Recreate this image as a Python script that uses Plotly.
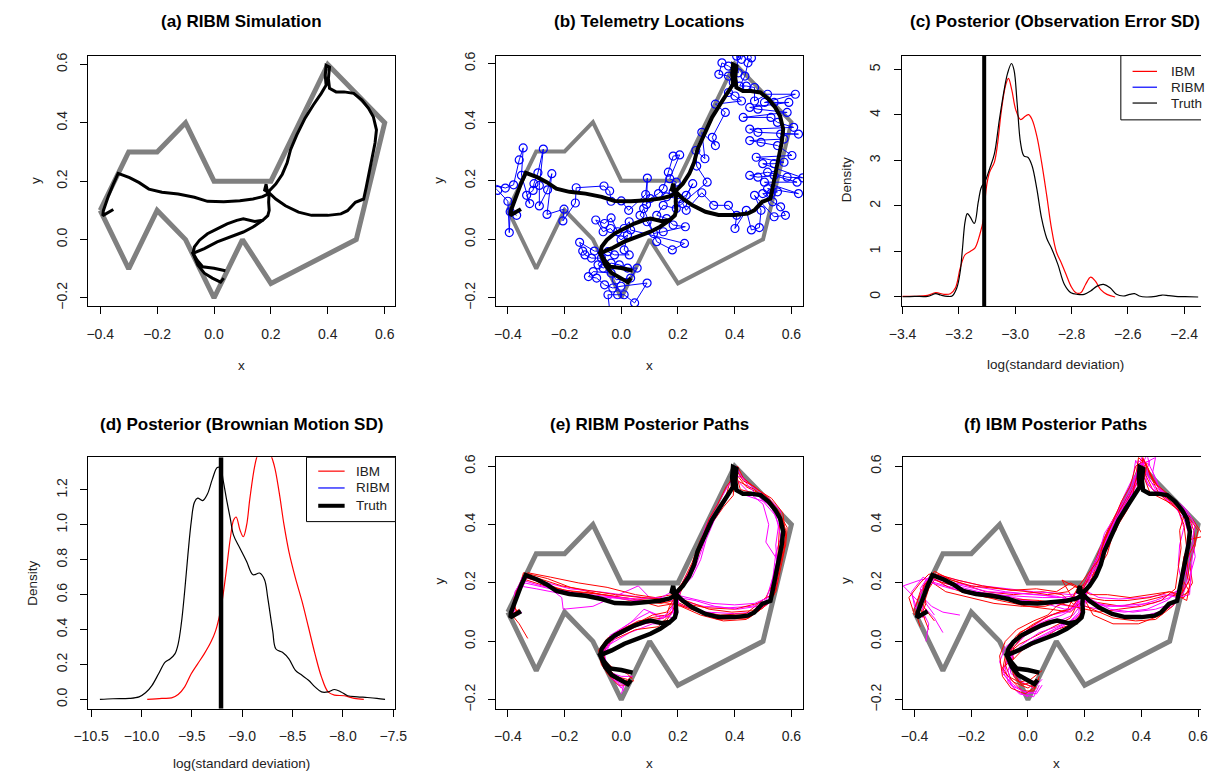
import plotly.graph_objects as go

W, H = 1221, 781
OFF = 8  # browser body margin
FW, FH = W - 2 * OFF, H - 2 * OFF  # keep the page from overflowing the window
FONT = "Liberation Sans, Arial, Helvetica, sans-serif"

# ---------------- data ----------------
BOUNDARY = [(-0.4, 0.1), (-0.3, 0.3), (-0.2, 0.3), (-0.1, 0.4), (0.0, 0.2), (0.2, 0.2), (0.4, 0.6),
            (0.6, 0.4), (0.5, 0.0), (0.2, -0.15), (0.1, 0.0), (0.0, -0.2), (-0.1, 0.0), (-0.2, 0.1),
            (-0.3, -0.1), (-0.4, 0.1)]

TRUTH_1 = [(-0.354, 0.103), (-0.371, 0.092), (-0.391, 0.082), (-0.389, 0.099), (-0.371, 0.150), (-0.354, 0.190),
           (-0.337, 0.227), (-0.297, 0.212), (-0.263, 0.195), (-0.229, 0.173), (-0.183, 0.162), (-0.126, 0.156),
           (-0.069, 0.145), (-0.023, 0.131), (0.034, 0.130), (0.091, 0.133), (0.137, 0.139), (0.171, 0.147),
           (0.189, 0.156), (0.183, 0.190), (0.178, 0.170), (0.194, 0.160), (0.217, 0.139), (0.251, 0.116),
           (0.297, 0.094), (0.343, 0.083), (0.400, 0.083), (0.446, 0.088), (0.469, 0.099), (0.497, 0.128),
           (0.526, 0.139), (0.535, 0.179), (0.543, 0.218), (0.554, 0.275), (0.566, 0.331), (0.571, 0.376),
           (0.560, 0.421), (0.543, 0.450), (0.520, 0.478), (0.491, 0.501), (0.457, 0.506), (0.429, 0.506),
           (0.406, 0.518), (0.402, 0.551), (0.406, 0.591), (0.394, 0.597), (0.391, 0.563), (0.394, 0.529),
           (0.377, 0.501), (0.349, 0.461), (0.320, 0.416), (0.291, 0.359), (0.269, 0.308), (0.257, 0.263),
           (0.240, 0.224), (0.217, 0.190), (0.194, 0.167), (0.192, 0.128), (0.194, 0.100), (0.189, 0.082),
           (0.171, 0.066), (0.143, 0.062), (0.103, 0.071), (0.080, 0.066), (0.046, 0.054), (0.011, 0.037),
           (-0.023, 0.020), (-0.051, -0.002), (-0.069, -0.025), (-0.074, -0.047), (-0.057, -0.087),
           (-0.034, -0.115), (-0.006, -0.132), (0.023, -0.146), (0.034, -0.132)]
TRUTH_2 = [(0.040, -0.107), (0.000, -0.098), (-0.040, -0.093), (-0.060, -0.070), (-0.074, -0.047),
           (-0.034, -0.031), (0.011, -0.008), (0.057, 0.009), (0.103, 0.026), (0.137, 0.043), (0.171, 0.066)]

TELEMETRY = [(-0.369, 0.082), (-0.392, 0.094), (-0.395, 0.023), (-0.400, 0.130), (-0.436, 0.167), (-0.46, 0.19),
             (-0.409, 0.175), (-0.380, 0.186), (-0.360, 0.271), (-0.346, 0.312), (-0.352, 0.218), (-0.323, 0.122),
             (-0.334, 0.150), (-0.311, 0.167), (-0.308, 0.190), (-0.294, 0.227), (-0.275, 0.308), (-0.289, 0.184),
             (-0.289, 0.114), (-0.260, 0.169), (-0.245, 0.224), (-0.262, 0.085), (-0.202, 0.103), (-0.206, 0.063),
             (-0.162, 0.124), (-0.159, 0.176), (-0.061, 0.182), (-0.041, 0.165), (-0.036, 0.130), (0.000, 0.131),
             (0.026, 0.099), (0.086, 0.153), (0.092, 0.209), (0.089, 0.119), (0.102, 0.139),
             (0.131, 0.156), (0.148, 0.173), (0.166, 0.229), (0.183, 0.284), (0.206, 0.288), (0.171, 0.207),
             (0.194, 0.195), (0.183, 0.162), (0.160, 0.145), (0.206, 0.139), (0.229, 0.150), (0.252, 0.190),
             (0.217, 0.122), (0.229, 0.099), (0.284, 0.159), (0.326, 0.116),
             (0.378, 0.116), (0.407, 0.082), (0.401, 0.037), (0.441, 0.099), (0.459, 0.032), (0.487, 0.040),
             (0.493, 0.099), (0.470, 0.150), (0.539, 0.077), (0.579, 0.082), (0.562, 0.111), (0.534, 0.128),
             (0.499, 0.156), (0.528, 0.156), (0.551, 0.162), (0.516, 0.173), (0.625, 0.156), (0.505, 0.195),
             (0.620, 0.195), (0.539, 0.218), (0.482, 0.212), (0.453, 0.218), (0.516, 0.229), (0.585, 0.212),
             (0.64, 0.21), (0.499, 0.258), (0.539, 0.258), (0.574, 0.263), (0.476, 0.280), (0.602, 0.286),
             (0.551, 0.320), (0.493, 0.331), (0.453, 0.337), (0.574, 0.342), (0.562, 0.359), (0.625, 0.359),
             (0.482, 0.365), (0.453, 0.376), (0.608, 0.382), (0.551, 0.399), (0.528, 0.416), (0.430, 0.416),
             (0.585, 0.433), (0.482, 0.444), (0.453, 0.450), (0.591, 0.467), (0.539, 0.467), (0.505, 0.467),
             (0.614, 0.495), (0.516, 0.495), (0.470, 0.472), (0.470, 0.518),
             (0.441, 0.523), (0.418, 0.523), (0.436, 0.557), (0.447, 0.602), (0.459, 0.619), (0.44, 0.67),
             (0.424, 0.614), (0.407, 0.625), (0.413, 0.568), (0.378, 0.591), (0.355, 0.602), (0.344, 0.563),
             (0.378, 0.557), (0.395, 0.535), (0.378, 0.501), (0.401, 0.489), (0.424, 0.472),
             (0.332, 0.461), (0.367, 0.433), (0.321, 0.348), (0.332, 0.320), (0.284, 0.365), (0.295, 0.275),
             (0.263, 0.303), (0.266, 0.250), (0.303, 0.195),
             (0.194, 0.105), (0.148, 0.116), (0.125, 0.082), (0.160, 0.071), (0.183, 0.049), (0.226, 0.043),
             (0.148, 0.026), (0.114, 0.020), (0.091, 0.060), (0.066, 0.082), (0.079, 0.105), (0.125, -0.008),
             (0.180, -0.036), (0.223, -0.014),
             (0.033, 0.032), (0.028, 0.060), (0.010, 0.037), (-0.013, 0.026), (-0.036, 0.073), (-0.059, 0.054),
             (-0.090, 0.066), (-0.064, 0.026), (-0.038, 0.037), (-0.001, -0.002), (0.022, 0.015), (0.010, -0.036),
             (0.028, -0.053), (-0.024, -0.053), (-0.047, -0.042), (-0.095, -0.040), (-0.147, -0.010),
             (-0.136, -0.040), (-0.128, -0.053), (-0.105, -0.064), (-0.070, -0.064), (-0.082, -0.087),
             (-0.064, -0.098), (-0.036, -0.081), (-0.007, -0.087), (0.022, -0.098), (0.056, -0.098),
             (0.033, -0.132), (-0.018, -0.138), (-0.036, -0.115), (-0.099, -0.110), (-0.116, -0.127),
             (-0.087, -0.132), (-0.059, -0.155), (-0.030, -0.166), (-0.001, -0.160), (0.091, -0.149),
             (0.047, -0.217), (0.010, -0.189), (-0.013, -0.189), (-0.047, -0.189), (-0.04, -0.25)]

# (c) posterior of observation error SD
C_BLACK_X = [-3.40, -3.357, -3.311, -3.282, -3.265, -3.241, -3.224, -3.207, -3.195, -3.187, -3.178, -3.170, -3.160,
             -3.145, -3.131, -3.120, -3.108, -3.091, -3.074, -3.056, -3.039, -3.027, -3.013, -3.004, -2.993, -2.981,
             -2.969, -2.954, -2.940, -2.923, -2.906, -2.888, -2.871, -2.848, -2.825, -2.802, -2.778, -2.755, -2.732,
             -2.709, -2.686, -2.663, -2.640, -2.616, -2.593, -2.576, -2.559, -2.535, -2.501, -2.478, -2.454, -2.431,
             -2.397, -2.350]
C_BLACK_Y = [0.005, 0.014, 0.014, 0.072, 0.043, 0.014, 0.022, 0.203, 0.565, 1.072, 1.652, 1.833, 1.761, 1.616,
             2.087, 2.413, 2.522, 2.812, 3.138, 3.899, 4.551, 4.913, 5.130, 4.986, 4.261, 3.391, 3.101, 3.065,
             2.884, 2.377, 1.725, 1.290, 1.072, 0.710, 0.275, 0.094, 0.058, 0.058, 0.130, 0.239, 0.275, 0.203,
             0.058, 0.022, 0.058, 0.072, 0.022, 0.0, 0.014, 0.043, 0.029, 0.014, 0.007, 0.0]
C_RED_X = [-3.40, -3.357, -3.311, -3.282, -3.253, -3.230, -3.212, -3.195, -3.178, -3.160, -3.143, -3.126, -3.112,
           -3.103, -3.091, -3.074, -3.062, -3.050, -3.035, -3.024, -3.012, -2.998, -2.981, -2.964, -2.952, -2.940,
           -2.923, -2.906, -2.888, -2.871, -2.854, -2.836, -2.819, -2.802, -2.784, -2.767, -2.750, -2.732, -2.715,
           -2.697, -2.674, -2.645]
C_RED_Y = [0.014, 0.014, 0.036, 0.094, 0.058, 0.072, 0.203, 0.638, 0.928, 1.0, 1.072, 1.362, 1.725, 2.377, 2.739,
           2.957, 3.391, 4.043, 4.623, 4.804, 4.551, 4.116, 3.899, 3.971, 4.007, 3.899, 3.536, 2.957, 2.232, 1.507,
           1.0, 0.746, 0.493, 0.239, 0.094, 0.094, 0.275, 0.435, 0.348, 0.167, 0.058, 0.0]
C_TRUTH = -3.11

# (d) posterior of Brownian motion SD
D_BLACK_X = [-10.413, -10.283, -10.121, -10.024, -9.960, -9.895, -9.830, -9.765, -9.717, -9.668, -9.636, -9.605,
             -9.571, -9.539, -9.506, -9.474, -9.442, -9.393, -9.345, -9.296, -9.248, -9.216, -9.189, -9.150, -9.118,
             -9.086, -9.021, -8.956, -8.892, -8.827, -8.778, -8.746, -8.697, -8.665, -8.600, -8.536, -8.471, -8.406,
             -8.341, -8.277, -8.212, -8.147, -8.083, -8.018, -7.953, -7.856, -7.759, -7.662, -7.581]
D_BLACK_Y = [0.0, 0.004, 0.006, 0.015, 0.038, 0.081, 0.147, 0.214, 0.232, 0.261, 0.317, 0.431, 0.620, 0.828, 1.017,
             1.130, 1.153, 1.139, 1.177, 1.262, 1.328, 1.328, 1.255, 1.130, 1.036, 0.941, 0.865, 0.790, 0.714,
             0.724, 0.686, 0.582, 0.393, 0.289, 0.270, 0.232, 0.166, 0.138, 0.110, 0.072, 0.043, 0.043, 0.057,
             0.043, 0.021, 0.015, 0.011, 0.006, 0.0]
D_RED_X = [-9.943, -9.798, -9.701, -9.636, -9.571, -9.506, -9.442, -9.377, -9.312, -9.264, -9.216, -9.167, -9.118,
           -9.086, -9.060, -9.021, -8.989, -8.956, -8.924, -8.875, -8.843, -8.794, -8.730, -8.681, -8.633, -8.584,
           -8.536, -8.471, -8.406, -8.341, -8.277, -8.212, -8.147, -8.083, -7.985, -7.888, -7.792]
D_RED_Y = [0.0, 0.006, 0.009, 0.028, 0.072, 0.147, 0.204, 0.261, 0.327, 0.393, 0.506, 0.695, 0.922, 1.026, 1.045,
           0.969, 0.932, 0.998, 1.149, 1.338, 1.404, 1.432, 1.413, 1.338, 1.187, 0.998, 0.847, 0.695, 0.563, 0.412,
           0.261, 0.128, 0.043, 0.025, 0.021, 0.006, 0.0]
D_TRUTH = -9.21

LEGEND_LABELS = ["IBM", "RIBM", "Truth"]
LEGEND_COLORS = ["#ff0000", "#0000ff", "#000000"]

# (e) RIBM posterior paths
E_RED_1 = [(-0.33, 0.01), (-0.36, 0.06), (-0.385, 0.09), (-0.37, 0.15), (-0.345, 0.235), (-0.26, 0.215), (-0.18, 0.185),
           (-0.07, 0.16), (0.03, 0.14), (0.14, 0.13), (0.185, 0.14), (0.25, 0.11), (0.34, 0.075), (0.45, 0.08),
           (0.52, 0.13), (0.54, 0.21), (0.56, 0.32), (0.57, 0.41), (0.53, 0.47), (0.47, 0.52), (0.41, 0.55),
           (0.39, 0.57), (0.37, 0.50), (0.33, 0.44), (0.28, 0.35), (0.25, 0.27), (0.21, 0.19), (0.19, 0.12),
           (0.16, 0.07), (0.07, 0.06), (-0.03, 0.01), (-0.07, -0.05), (-0.04, -0.10), (0.01, -0.14), (0.04, -0.12)]
E_RED_2 = [(-0.36, 0.11), (-0.39, 0.09), (-0.375, 0.16), (-0.35, 0.215), (-0.27, 0.19), (-0.17, 0.17), (-0.06, 0.16),
           (0.04, 0.145), (0.13, 0.12), (0.19, 0.13), (0.26, 0.105), (0.35, 0.09), (0.44, 0.095), (0.51, 0.15),
           (0.55, 0.23), (0.58, 0.33), (0.585, 0.39), (0.55, 0.45), (0.50, 0.50), (0.44, 0.53), (0.40, 0.58),
           (0.385, 0.52), (0.34, 0.45), (0.30, 0.38), (0.265, 0.30), (0.23, 0.21), (0.20, 0.16), (0.18, 0.10),
           (0.13, 0.05), (0.05, 0.04), (-0.04, 0.0), (-0.075, -0.06), (-0.05, -0.11), (-0.01, -0.15), (0.03, -0.15)]
E_RED_3 = [(-0.365, 0.10), (-0.38, 0.12), (-0.36, 0.18), (-0.33, 0.235), (-0.25, 0.22), (-0.15, 0.20), (-0.05, 0.185),
           (0.05, 0.16), (0.12, 0.15), (0.18, 0.16), (0.22, 0.13), (0.30, 0.115), (0.40, 0.11), (0.48, 0.13),
           (0.53, 0.16), (0.55, 0.25), (0.555, 0.34), (0.56, 0.43), (0.52, 0.48), (0.46, 0.51), (0.42, 0.52),
           (0.40, 0.59), (0.395, 0.50), (0.36, 0.46), (0.31, 0.39), (0.27, 0.31), (0.245, 0.24), (0.21, 0.17),
           (0.19, 0.11), (0.15, 0.08), (0.06, 0.07), (-0.02, 0.03), (-0.06, -0.02), (-0.06, -0.08), (-0.02, -0.12),
           (0.02, -0.13)]
E_RED_4 = [(-0.37, 0.09), (-0.385, 0.10), (-0.37, 0.17), (-0.34, 0.22), (-0.28, 0.20), (-0.20, 0.175), (-0.10, 0.165),
           (0.0, 0.15), (0.10, 0.14), (0.17, 0.13), (0.21, 0.12), (0.28, 0.09), (0.36, 0.07), (0.44, 0.075),
           (0.50, 0.115), (0.54, 0.16), (0.56, 0.26), (0.58, 0.36), (0.57, 0.44), (0.53, 0.49), (0.48, 0.52),
           (0.43, 0.56), (0.41, 0.60), (0.40, 0.55), (0.38, 0.51), (0.33, 0.43), (0.30, 0.37), (0.27, 0.29),
           (0.24, 0.22), (0.20, 0.17), (0.17, 0.12), (0.16, 0.09), (0.10, 0.08), (0.02, 0.05), (-0.05, 0.0),
           (-0.07, -0.06), (-0.03, -0.09), (0.02, -0.11), (0.04, -0.13)]
E_RED_5 = [(-0.37, 0.10), (-0.38, 0.14), (-0.355, 0.20), (-0.335, 0.23), (-0.29, 0.215), (-0.21, 0.19), (-0.12, 0.175),
           (-0.02, 0.16), (0.07, 0.15), (0.15, 0.145), (0.19, 0.15), (0.24, 0.135), (0.31, 0.11), (0.39, 0.10),
           (0.46, 0.105), (0.51, 0.125), (0.545, 0.17), (0.56, 0.24), (0.575, 0.31), (0.58, 0.38), (0.56, 0.44),
           (0.52, 0.49), (0.47, 0.53), (0.43, 0.55), (0.41, 0.58), (0.395, 0.56), (0.37, 0.53), (0.34, 0.47),
           (0.31, 0.42), (0.28, 0.34), (0.26, 0.28), (0.23, 0.22), (0.20, 0.18), (0.185, 0.13), (0.16, 0.10),
           (0.11, 0.09), (0.05, 0.06), (0.0, 0.035), (-0.05, 0.01), (-0.08, -0.03), (-0.07, -0.08), (-0.04, -0.12),
           (0.0, -0.14), (0.045, -0.135)]
E_MAG_1 = [(-0.36, 0.09), (-0.38, 0.10), (-0.37, 0.16), (-0.34, 0.20), (-0.25, 0.18), (-0.21, 0.15), (-0.205, 0.11),
           (-0.10, 0.12), (0.06, 0.19), (0.10, 0.15), (0.18, 0.14), (0.22, 0.12), (0.30, 0.10), (0.40, 0.095),
           (0.47, 0.10), (0.52, 0.13), (0.53, 0.20), (0.55, 0.28), (0.51, 0.34), (0.52, 0.40), (0.50, 0.47),
           (0.45, 0.51), (0.41, 0.55), (0.40, 0.585), (0.39, 0.52), (0.35, 0.47), (0.31, 0.41), (0.29, 0.33),
           (0.26, 0.25), (0.22, 0.19), (0.19, 0.15), (0.20, 0.10), (0.17, 0.06), (0.11, 0.06), (0.03, 0.03),
           (-0.04, -0.01), (-0.07, -0.07), (-0.04, -0.12), (0.0, -0.16), (0.02, -0.14)]
E_MAG_2 = [(-0.375, 0.11), (-0.39, 0.08), (-0.38, 0.13), (-0.35, 0.22), (-0.28, 0.205), (-0.18, 0.18), (-0.08, 0.17),
           (0.03, 0.155), (0.12, 0.145), (0.17, 0.15), (0.21, 0.14), (0.29, 0.12), (0.38, 0.115), (0.46, 0.12),
           (0.51, 0.14), (0.535, 0.22), (0.545, 0.30), (0.57, 0.38), (0.56, 0.45), (0.51, 0.50), (0.46, 0.53),
           (0.43, 0.56), (0.40, 0.57), (0.375, 0.53), (0.345, 0.48), (0.30, 0.40), (0.27, 0.32), (0.25, 0.26),
           (0.22, 0.2), (0.185, 0.16), (0.18, 0.11), (0.19, 0.08), (0.13, 0.09), (0.08, 0.11), (0.04, 0.07),
           (-0.03, 0.02), (-0.06, -0.04), (-0.05, -0.09), (-0.02, -0.13), (0.01, -0.17)]
E_MAG_3 = [(-0.35, 0.10), (-0.385, 0.085), (-0.38, 0.14), (-0.36, 0.19), (-0.30, 0.18), (-0.22, 0.165), (-0.13, 0.155),
           (-0.04, 0.15), (0.05, 0.14), (0.13, 0.135), (0.19, 0.16), (0.23, 0.15), (0.32, 0.13), (0.40, 0.125),
           (0.47, 0.13), (0.53, 0.155), (0.55, 0.20), (0.56, 0.29), (0.565, 0.35), (0.545, 0.43), (0.50, 0.48),
           (0.44, 0.50), (0.41, 0.52), (0.40, 0.56), (0.38, 0.50), (0.33, 0.42), (0.30, 0.35), (0.28, 0.28),
           (0.25, 0.22), (0.21, 0.18), (0.20, 0.13), (0.175, 0.09), (0.12, 0.07), (0.05, 0.05), (-0.01, 0.02),
           (-0.06, -0.03), (-0.065, -0.08), (-0.03, -0.11), (0.0, -0.12), (0.04, -0.12)]
E_MAG_4 = [(-0.38, 0.12), (-0.375, 0.17), (-0.35, 0.21), (-0.30, 0.195), (-0.24, 0.18), (-0.16, 0.165), (-0.06, 0.155),
           (0.05, 0.145), (0.14, 0.15), (0.18, 0.17), (0.20, 0.15), (0.26, 0.14), (0.33, 0.12), (0.41, 0.11),
           (0.48, 0.12), (0.52, 0.14), (0.54, 0.18), (0.55, 0.26), (0.545, 0.33), (0.555, 0.40), (0.53, 0.46),
           (0.49, 0.49), (0.45, 0.53), (0.42, 0.57), (0.405, 0.60), (0.40, 0.55), (0.36, 0.48), (0.32, 0.42),
           (0.29, 0.36), (0.27, 0.30), (0.24, 0.24), (0.21, 0.19), (0.19, 0.14), (0.17, 0.10), (0.14, 0.08),
           (0.10, 0.10), (0.06, 0.08), (0.01, 0.05), (-0.04, 0.02), (-0.065, -0.04), (-0.06, -0.09), (-0.03, -0.13),
           (0.01, -0.15), (0.0, -0.18)]

# (f) IBM posterior paths
F_RED_1 = [(-0.36, 0.08), (-0.39, 0.10), (-0.36, 0.16), (-0.34, 0.23), (-0.30, 0.22), (-0.24, 0.20), (-0.15, 0.17),
           (-0.05, 0.16), (0.05, 0.17), (0.12, 0.16), (0.17, 0.12), (0.20, 0.14), (0.26, 0.13), (0.33, 0.12),
           (0.42, 0.14), (0.50, 0.16), (0.55, 0.15), (0.58, 0.20), (0.57, 0.27), (0.59, 0.33), (0.585, 0.38),
           (0.56, 0.44), (0.52, 0.48), (0.47, 0.52), (0.43, 0.57), (0.41, 0.62), (0.39, 0.58), (0.37, 0.52),
           (0.33, 0.47), (0.29, 0.40), (0.25, 0.31), (0.22, 0.23), (0.19, 0.18), (0.17, 0.12), (0.15, 0.08),
           (0.09, 0.05), (0.03, 0.02), (-0.03, -0.01), (-0.08, -0.05), (-0.09, -0.10), (-0.05, -0.14), (0.0, -0.16),
           (0.03, -0.14)]
F_RED_2 = [(-0.33, 0.07), (-0.37, 0.12), (-0.35, 0.18), (-0.33, 0.21), (-0.26, 0.19), (-0.18, 0.16), (-0.10, 0.14),
           (0.00, 0.12), (0.08, 0.11), (0.15, 0.10), (0.18, 0.13), (0.24, 0.105), (0.30, 0.08), (0.38, 0.07),
           (0.45, 0.075), (0.51, 0.12), (0.545, 0.17), (0.55, 0.24), (0.56, 0.31), (0.57, 0.37), (0.555, 0.43),
           (0.52, 0.46), (0.48, 0.50), (0.45, 0.54), (0.42, 0.59), (0.405, 0.63), (0.40, 0.57), (0.36, 0.50),
           (0.32, 0.44), (0.28, 0.37), (0.26, 0.30), (0.23, 0.22), (0.18, 0.18), (0.12, 0.21), (0.15, 0.16),
           (0.19, 0.10), (0.16, 0.06), (0.10, 0.04), (0.04, 0.00), (-0.02, -0.03), (-0.06, -0.07), (-0.05, -0.12),
           (-0.02, -0.15), (0.04, -0.13)]
F_RED_3 = [(-0.38, 0.05), (-0.40, 0.11), (-0.38, 0.17), (-0.35, 0.21), (-0.29, 0.17), (-0.21, 0.15), (-0.12, 0.13),
           (-0.02, 0.12), (0.06, 0.12), (0.13, 0.14), (0.19, 0.16), (0.23, 0.09), (0.30, 0.06), (0.39, 0.06),
           (0.47, 0.09), (0.53, 0.15), (0.57, 0.17), (0.54, 0.22), (0.55, 0.29), (0.575, 0.35), (0.62, 0.36),
           (0.58, 0.42), (0.53, 0.46), (0.49, 0.49), (0.44, 0.52), (0.40, 0.60), (0.38, 0.55), (0.35, 0.49),
           (0.31, 0.43), (0.28, 0.36), (0.24, 0.28), (0.20, 0.20), (0.17, 0.17), (0.14, 0.11), (0.08, 0.09),
           (0.02, 0.06), (-0.04, 0.02), (-0.07, -0.02), (-0.08, -0.08), (-0.06, -0.13), (-0.02, -0.17), (0.02, -0.17),
           (0.04, -0.12)]
F_RED_4 = [(-0.35, 0.04), (-0.37, 0.09), (-0.39, 0.14), (-0.36, 0.20), (-0.33, 0.24), (-0.27, 0.21), (-0.20, 0.19),
           (-0.10, 0.18), (0.00, 0.17), (0.07, 0.16), (0.14, 0.17), (0.17, 0.19), (0.21, 0.15), (0.27, 0.14),
           (0.35, 0.14), (0.43, 0.15), (0.50, 0.17), (0.56, 0.14), (0.57, 0.19), (0.555, 0.25), (0.56, 0.32),
           (0.55, 0.40), (0.53, 0.45), (0.49, 0.48), (0.46, 0.51), (0.44, 0.55), (0.42, 0.60), (0.39, 0.63),
           (0.38, 0.56), (0.37, 0.50), (0.34, 0.46), (0.31, 0.38), (0.27, 0.33), (0.24, 0.26), (0.22, 0.20),
           (0.20, 0.14), (0.18, 0.08), (0.14, 0.06), (0.07, 0.07), (0.00, 0.04), (-0.05, -0.02), (-0.06, -0.09),
           (-0.03, -0.14), (0.01, -0.13), (0.05, -0.10)]
F_RED_5 = [(-0.38, 0.08), (-0.36, 0.13), (-0.37, 0.19), (-0.34, 0.22), (-0.28, 0.185), (-0.22, 0.165), (-0.14, 0.15),
           (-0.04, 0.145), (0.04, 0.14), (0.11, 0.13), (0.16, 0.12), (0.20, 0.11), (0.25, 0.10), (0.32, 0.11),
           (0.40, 0.12), (0.47, 0.14), (0.52, 0.18), (0.53, 0.25), (0.54, 0.32), (0.535, 0.38), (0.55, 0.43),
           (0.51, 0.47), (0.47, 0.49), (0.43, 0.51), (0.41, 0.56), (0.42, 0.61), (0.40, 0.59), (0.385, 0.52),
           (0.35, 0.45), (0.30, 0.37), (0.28, 0.30), (0.25, 0.25), (0.21, 0.21), (0.18, 0.15), (0.15, 0.11),
           (0.11, 0.10), (0.06, 0.08), (0.01, 0.05), (-0.03, 0.03), (-0.06, -0.03), (-0.05, -0.06), (-0.09, -0.09),
           (-0.07, -0.12), (-0.03, -0.14), (0.03, -0.16)]
F_RED_6 = [(-0.40, 0.09), (-0.42, 0.15), (-0.38, 0.20), (-0.35, 0.23), (-0.32, 0.23), (-0.25, 0.21), (-0.16, 0.19),
           (-0.06, 0.175), (0.03, 0.18), (0.10, 0.17), (0.15, 0.20), (0.19, 0.18), (0.22, 0.16), (0.28, 0.16),
           (0.36, 0.15), (0.44, 0.16), (0.50, 0.17), (0.54, 0.16), (0.57, 0.21), (0.56, 0.28), (0.59, 0.34),
           (0.60, 0.38), (0.57, 0.42), (0.54, 0.45), (0.50, 0.50), (0.45, 0.54), (0.43, 0.58), (0.41, 0.62),
           (0.38, 0.60), (0.36, 0.53), (0.33, 0.48), (0.30, 0.41), (0.27, 0.35), (0.25, 0.28), (0.21, 0.23),
           (0.18, 0.19), (0.15, 0.14), (0.10, 0.12), (0.07, 0.09), (0.02, 0.07), (-0.04, 0.04), (-0.08, 0.00),
           (-0.10, -0.05), (-0.09, -0.12), (-0.06, -0.16), (-0.01, -0.18), (0.02, -0.16)]
F_MAG_1 = [(-0.41, 0.16), (-0.39, 0.11), (-0.37, 0.15), (-0.35, 0.22), (-0.30, 0.20), (-0.22, 0.18), (-0.13, 0.16),
           (-0.04, 0.155), (0.05, 0.15), (0.12, 0.15), (0.17, 0.14), (0.20, 0.12), (0.25, 0.11), (0.34, 0.10),
           (0.42, 0.11), (0.49, 0.14), (0.53, 0.17), (0.55, 0.23), (0.56, 0.30), (0.575, 0.36), (0.56, 0.42),
           (0.53, 0.47), (0.49, 0.50), (0.45, 0.52), (0.42, 0.57), (0.40, 0.63), (0.39, 0.57), (0.37, 0.51),
           (0.33, 0.45), (0.30, 0.39), (0.27, 0.32), (0.24, 0.24), (0.21, 0.19), (0.19, 0.13), (0.16, 0.09),
           (0.11, 0.07), (0.05, 0.05), (-0.01, 0.02), (-0.06, -0.03), (-0.08, -0.09), (-0.07, -0.14), (-0.03, -0.18),
           (0.02, -0.19), (0.04, -0.15)]
F_MAG_2 = [(-0.30, 0.03), (-0.33, 0.08), (-0.37, 0.12), (-0.40, 0.15), (-0.44, 0.19), (-0.38, 0.21), (-0.33, 0.22),
           (-0.26, 0.20), (-0.17, 0.185), (-0.08, 0.17), (0.02, 0.16), (0.10, 0.155), (0.16, 0.14), (0.19, 0.155),
           (0.24, 0.12), (0.31, 0.09), (0.40, 0.085), (0.46, 0.10), (0.51, 0.12), (0.545, 0.16), (0.56, 0.22),
           (0.57, 0.28), (0.565, 0.35), (0.57, 0.41), (0.54, 0.45), (0.50, 0.49), (0.46, 0.53), (0.44, 0.58),
           (0.45, 0.63), (0.41, 0.61), (0.39, 0.55), (0.36, 0.49), (0.32, 0.42), (0.29, 0.35), (0.26, 0.28),
           (0.23, 0.21), (0.20, 0.16), (0.19, 0.10), (0.15, 0.07), (0.09, 0.04), (0.03, 0.01), (-0.02, -0.02),
           (-0.07, -0.06), (-0.06, -0.11), (-0.02, -0.14), (0.02, -0.16), (0.05, -0.13)]
F_MAG_3 = [(-0.33, 0.09), (-0.36, 0.13), (-0.38, 0.18), (-0.36, 0.21), (-0.29, 0.19), (-0.20, 0.17), (-0.10, 0.16),
           (0.00, 0.14), (0.09, 0.13), (0.15, 0.12), (0.19, 0.14), (0.22, 0.13), (0.28, 0.12), (0.36, 0.125),
           (0.44, 0.13), (0.50, 0.15), (0.545, 0.19), (0.53, 0.26), (0.535, 0.33), (0.55, 0.39), (0.53, 0.45),
           (0.49, 0.49), (0.45, 0.51), (0.42, 0.54), (0.41, 0.60), (0.39, 0.62), (0.38, 0.54), (0.35, 0.47),
           (0.31, 0.40), (0.28, 0.34), (0.25, 0.27), (0.22, 0.20), (0.18, 0.16), (0.16, 0.11), (0.12, 0.09),
           (0.06, 0.07), (0.00, 0.04), (-0.05, 0.00), (-0.07, -0.05), (-0.09, -0.11), (-0.05, -0.15), (0.0, -0.18),
           (0.03, -0.17)]
F_MAG_4 = [(-0.24, 0.09), (-0.30, 0.10), (-0.34, 0.12), (-0.37, 0.15), (-0.36, 0.20), (-0.33, 0.23), (-0.25, 0.21),
           (-0.16, 0.19), (-0.07, 0.18), (0.02, 0.17), (0.10, 0.165), (0.15, 0.16), (0.21, 0.17), (0.25, 0.15),
           (0.32, 0.145), (0.41, 0.15), (0.48, 0.16), (0.53, 0.15), (0.57, 0.16), (0.575, 0.23), (0.58, 0.30),
           (0.57, 0.36), (0.55, 0.42), (0.51, 0.47), (0.47, 0.50), (0.43, 0.53), (0.40, 0.58), (0.38, 0.62),
           (0.37, 0.56), (0.34, 0.50), (0.31, 0.43), (0.27, 0.37), (0.25, 0.30), (0.22, 0.24), (0.19, 0.17),
           (0.17, 0.12), (0.13, 0.10), (0.08, 0.09), (0.03, 0.06), (-0.03, 0.02), (-0.08, -0.02), (-0.10, -0.07),
           (-0.08, -0.12), (-0.04, -0.17), (0.0, -0.19)]
F_MAG_5 = [(-0.36, 0.00), (-0.35, 0.06), (-0.37, 0.10), (-0.38, 0.16), (-0.36, 0.21), (-0.31, 0.21), (-0.23, 0.19),
           (-0.14, 0.17), (-0.05, 0.165), (0.04, 0.16), (0.11, 0.15), (0.16, 0.155), (0.20, 0.14), (0.24, 0.13),
           (0.30, 0.12), (0.38, 0.12), (0.45, 0.14), (0.50, 0.16), (0.54, 0.18), (0.56, 0.25), (0.56, 0.33),
           (0.58, 0.40), (0.55, 0.46), (0.50, 0.50), (0.46, 0.52), (0.43, 0.55), (0.42, 0.59), (0.43, 0.62),
           (0.39, 0.60), (0.37, 0.53), (0.34, 0.47), (0.30, 0.40), (0.27, 0.33), (0.25, 0.27), (0.21, 0.21),
           (0.18, 0.15), (0.18, 0.10), (0.15, 0.07), (0.10, 0.05), (0.04, 0.03), (-0.02, -0.01), (-0.06, -0.05),
           (-0.05, -0.10), (-0.01, -0.13), (0.03, -0.14)]
F_MAG_6 = [(-0.37, 0.08), (-0.40, 0.12), (-0.41, 0.17), (-0.37, 0.22), (-0.34, 0.20), (-0.27, 0.18), (-0.19, 0.17),
           (-0.11, 0.15), (-0.02, 0.14), (0.06, 0.13), (0.13, 0.11), (0.18, 0.12), (0.20, 0.16), (0.23, 0.14),
           (0.29, 0.11), (0.37, 0.10), (0.45, 0.11), (0.51, 0.13), (0.55, 0.17), (0.57, 0.22), (0.59, 0.29),
           (0.58, 0.35), (0.59, 0.40), (0.56, 0.45), (0.51, 0.48), (0.47, 0.51), (0.45, 0.56), (0.43, 0.60),
           (0.42, 0.64), (0.40, 0.60), (0.38, 0.57), (0.35, 0.50), (0.32, 0.45), (0.29, 0.38), (0.26, 0.31),
           (0.23, 0.25), (0.21, 0.19), (0.20, 0.12), (0.17, 0.08), (0.12, 0.05), (0.06, 0.02), (0.0, -0.01),
           (-0.05, -0.04), (-0.07, -0.10), (-0.06, -0.15), (-0.02, -0.17), (0.03, -0.18), (0.05, -0.15)]

TITLES = ["(a) RIBM Simulation", "(b) Telemetry Locations", "(c) Posterior (Observation Error SD)",
          "(d) Posterior (Brownian Motion SD)", "(e) RIBM Posterior Paths", "(f) IBM Posterior Paths"]


# ---------------- layout helpers (page pixel -> paper coordinates) ----------------
def px(x):
    return (x - OFF) / FW


def py(y):
    return 1 - (y - OFF) / FH


def xs(pts):
    return [p[0] for p in pts]


def ys(pts):
    return [p[1] for p in pts]


# panel boxes in page pixels (left, right, top, bottom)
BOX = {1: (75, 389, 52, 305), 2: (492, 806, 52, 305), 3: (907, 1221, 52, 305),
       4: (75, 389, 458, 712), 5: (492, 806, 458, 712), 6: (908, 1221, 458, 712)}
# axis calibration: (value0, pixel0, value1, pixel1)
XCAL = {1: (-0.4, 87, 0.6, 378), 2: (-0.4, 504, 0.6, 794), 3: (-3.4, 907.7, -2.4, 1195.7),
        4: (-10.5, 77.7, -7.5, 386.7), 5: (-0.4, 504, 0.6, 794), 6: (-0.4, 920, 0.6, 1210)}
YCAL = {1: (0.6, 61, -0.2, 297), 2: (0.6, 60, -0.2, 297), 3: (0.0, 296, 5.0, 66),
        4: (0.0, 702.7, 1.2, 491), 5: (0.6, 467, -0.2, 703), 6: (0.6, 467, -0.2, 703)}
XTICKS = {1: [-0.4, -0.2, 0.0, 0.2, 0.4, 0.6], 3: [-3.4, -3.2, -3.0, -2.8, -2.6, -2.4],
          4: [-10.5, -10.0, -9.5, -9.0, -8.5, -8.0, -7.5]}
YTICKS = {1: [-0.2, 0.0, 0.2, 0.4, 0.6], 3: [0, 1, 2, 3, 4, 5], 4: [0.0, 0.2, 0.4, 0.6, 0.8, 1.0, 1.2]}
PAGE_RIGHT = OFF + FW
PAGE_BOTTOM = OFF + FH
CUT_RIGHT = (3, 6)  # panels whose right side is cut by the image edge


def val_at(cal, p):
    v0, p0, v1, p1 = cal
    return v0 + (p - p0) * (v1 - v0) / (p1 - p0)


def tick_text(vals, fmt):
    return [(fmt.format(v)).replace("-", "\u2212") for v in vals]


fig = go.Figure()
layout_axes = {}
YRANGE = {}
for i in range(1, 7):
    l, r, t, b = BOX[i]
    r = min(r, PAGE_RIGHT)
    xr = [val_at(XCAL[i], l), val_at(XCAL[i], r)]
    yr = [val_at(YCAL[i], b), val_at(YCAL[i], t)]
    YRANGE[i] = yr
    key = 1 if i in (1, 2, 5, 6) else i
    xt = XTICKS[key]
    yt = YTICKS[key]
    yfmt = "{:.0f}" if i == 3 else "{:.1f}"
    common = dict(showline=True, linecolor="black", linewidth=1, ticks="outside", ticklen=7,
                  tickcolor="black", tickwidth=1, showgrid=False, zeroline=False,
                  tickfont=dict(family=FONT, size=14, color="#222"))
    sx = "" if i == 1 else str(i)
    layout_axes["xaxis" + sx] = dict(common, mirror=True, domain=[px(l), min(px(r), 1.0)], range=xr,
                                     anchor="y" + sx, tickvals=xt, ticktext=tick_text(xt, "{:.1f}"),
                                     ticklabelstandoff=8)
    layout_axes["yaxis" + sx] = dict(common, mirror=(i not in CUT_RIGHT), domain=[py(b), py(t)], range=yr,
                                     anchor="x" + sx, tickvals=yt, ticktext=tick_text(yt, yfmt), tickangle=-90,
                                     ticklabelstandoff=8)


def add(i, **kw):
    sx = "" if i == 1 else str(i)
    fig.add_trace(go.Scatter(xaxis="x" + sx, yaxis="y" + sx, showlegend=False, hoverinfo="skip", **kw))


truth_x = xs(TRUTH_1) + [None] + xs(TRUTH_2)
truth_y = ys(TRUTH_1) + [None] + ys(TRUTH_2)
GRAY = "#808080"

# (a)
add(1, x=xs(BOUNDARY), y=ys(BOUNDARY), mode="lines", line=dict(color=GRAY, width=5))
add(1, x=truth_x, y=truth_y, mode="lines", line=dict(color="black", width=3))

# (b)
add(2, x=xs(BOUNDARY), y=ys(BOUNDARY), mode="lines", line=dict(color=GRAY, width=4))
add(2, x=xs(TELEMETRY), y=ys(TELEMETRY), mode="lines+markers", line=dict(color="#0000ff", width=1),
    marker=dict(symbol="circle-open", size=8, color="#0000ff", line=dict(width=1.2)))
add(2, x=truth_x, y=truth_y, mode="lines", line=dict(color="black", width=4))

# (c)
add(3, x=C_RED_X, y=C_RED_Y, mode="lines", line=dict(color="#ff0000", width=1.2, shape="spline"))
add(3, x=C_BLACK_X, y=C_BLACK_Y, mode="lines", line=dict(color="black", width=1.2, shape="spline"))
add(3, x=[C_TRUTH, C_TRUTH], y=YRANGE[3], mode="lines", line=dict(color="black", width=4))

# (d)
add(4, x=D_RED_X, y=D_RED_Y, mode="lines", line=dict(color="#ff0000", width=1.2, shape="spline"))
add(4, x=D_BLACK_X, y=D_BLACK_Y, mode="lines", line=dict(color="black", width=1.2, shape="spline"))
add(4, x=[D_TRUTH, D_TRUTH], y=YRANGE[4], mode="lines", line=dict(color="black", width=4.5))

# (e)
add(5, x=xs(BOUNDARY), y=ys(BOUNDARY), mode="lines", line=dict(color=GRAY, width=5))
for pr, pm in [(E_RED_1, E_MAG_1), (E_RED_2, E_MAG_2), (E_RED_3, E_MAG_3), (E_RED_4, E_MAG_4), (E_RED_5, None)]:
    add(5, x=xs(pr), y=ys(pr), mode="lines", line=dict(color="#ff0000", width=1))
    if pm:
        add(5, x=xs(pm), y=ys(pm), mode="lines", line=dict(color="#ff00ff", width=1))
add(5, x=truth_x, y=truth_y, mode="lines", line=dict(color="black", width=4.5))

# (f)
add(6, x=xs(BOUNDARY), y=ys(BOUNDARY), mode="lines", line=dict(color=GRAY, width=5))
for pr, pm in [(F_RED_1, F_MAG_1), (F_RED_2, F_MAG_2), (F_RED_3, F_MAG_3), (F_RED_4, F_MAG_4),
               (F_RED_5, F_MAG_5), (F_RED_6, F_MAG_6)]:
    add(6, x=xs(pm), y=ys(pm), mode="lines", line=dict(color="#ff00ff", width=1))
    add(6, x=xs(pr), y=ys(pr), mode="lines", line=dict(color="#ff0000", width=1))
add(6, x=truth_x, y=truth_y, mode="lines", line=dict(color="black", width=4.5))

# ---------------- annotations ----------------
ann = []
shapes = []
title_pos = [(232, 18), (649, 18), (1064, 18), (232, 425), (649, 425), (1064, 425)]
for (tx, ty), txt in zip(title_pos, TITLES):
    ann.append(dict(x=px(tx), y=py(ty), xref="paper", yref="paper", text="<b>" + txt + "</b>", showarrow=False,
                    xanchor="center", yanchor="middle", font=dict(family=FONT, size=17, color="black")))

xlabels = [(232, 365, "x"), (649, 365, "x"), (1064, 364, "log(standard deviation)"),
           (232, 767, "log(standard deviation)"), (649, 767, "x"), (1065, 767, "x")]
for lx, ly, txt in xlabels:
    ann.append(dict(x=px(lx), y=py(ly), xref="paper", yref="paper", text=txt, showarrow=False,
                    xanchor="center", yanchor="middle", font=dict(family=FONT, size=13.5, color="#222")))
ylabels = [(20, 178, "y"), (433, 178, "y"), (850, 178, "Density"), (18, 585, "Density"),
           (435, 583, "y"), (850, 583, "y")]
for lx, ly, txt in ylabels:
    ann.append(dict(x=px(lx), y=py(ly), xref="paper", yref="paper", text=txt, showarrow=False, textangle=-90,
                    xanchor="center", yanchor="middle", font=dict(family=FONT, size=13.5, color="#222")))

LEG = [dict(box=(1131, 1230, 52, 117), x0=1143, x1=1168, tx=1180, ys=(68, 84, 100), widths=(1.2, 1.2, 1.2)),
       dict(box=(298, 389, 458, 523), x0=310, x1=337, tx=347, ys=(472, 489, 507), widths=(1.2, 1.2, 4))]
for lg in LEG:
    l, r, t, b = lg["box"]
    x0, x1, y0, y1 = px(l), min(px(r), 1.0), py(b), py(t)
    shapes.append(dict(type="rect", xref="paper", yref="paper", x0=x0, x1=x1, y0=y0, y1=y1,
                       line=dict(width=0), fillcolor="white", layer="above"))
    path = "M %f,%f L %f,%f L %f,%f L %f,%f" % (x1, y1, x0, y1, x0, y0, x1, y0)
    if r <= PAGE_RIGHT:
        path += " Z"
    shapes.append(dict(type="path", xref="paper", yref="paper", path=path, line=dict(color="black", width=1),
                       layer="above"))
    for lab, col, yy, wd in zip(LEGEND_LABELS, LEGEND_COLORS, lg["ys"], lg["widths"]):
        shapes.append(dict(type="line", xref="paper", yref="paper", x0=px(lg["x0"]), x1=px(lg["x1"]),
                           y0=py(yy), y1=py(yy), line=dict(color=col, width=wd), layer="above"))
        ann.append(dict(x=px(lg["tx"]), y=py(yy), xref="paper", yref="paper", text=lab, showarrow=False,
                        xanchor="left", yanchor="middle", font=dict(family=FONT, size=13.5, color="#222")))

fig.update_layout(width=FW, height=FH, margin=dict(l=0, r=0, t=0, b=0), paper_bgcolor="white",
                  plot_bgcolor="white", annotations=ann, shapes=shapes, showlegend=False, **layout_axes)

fig.write_html("out.html")
